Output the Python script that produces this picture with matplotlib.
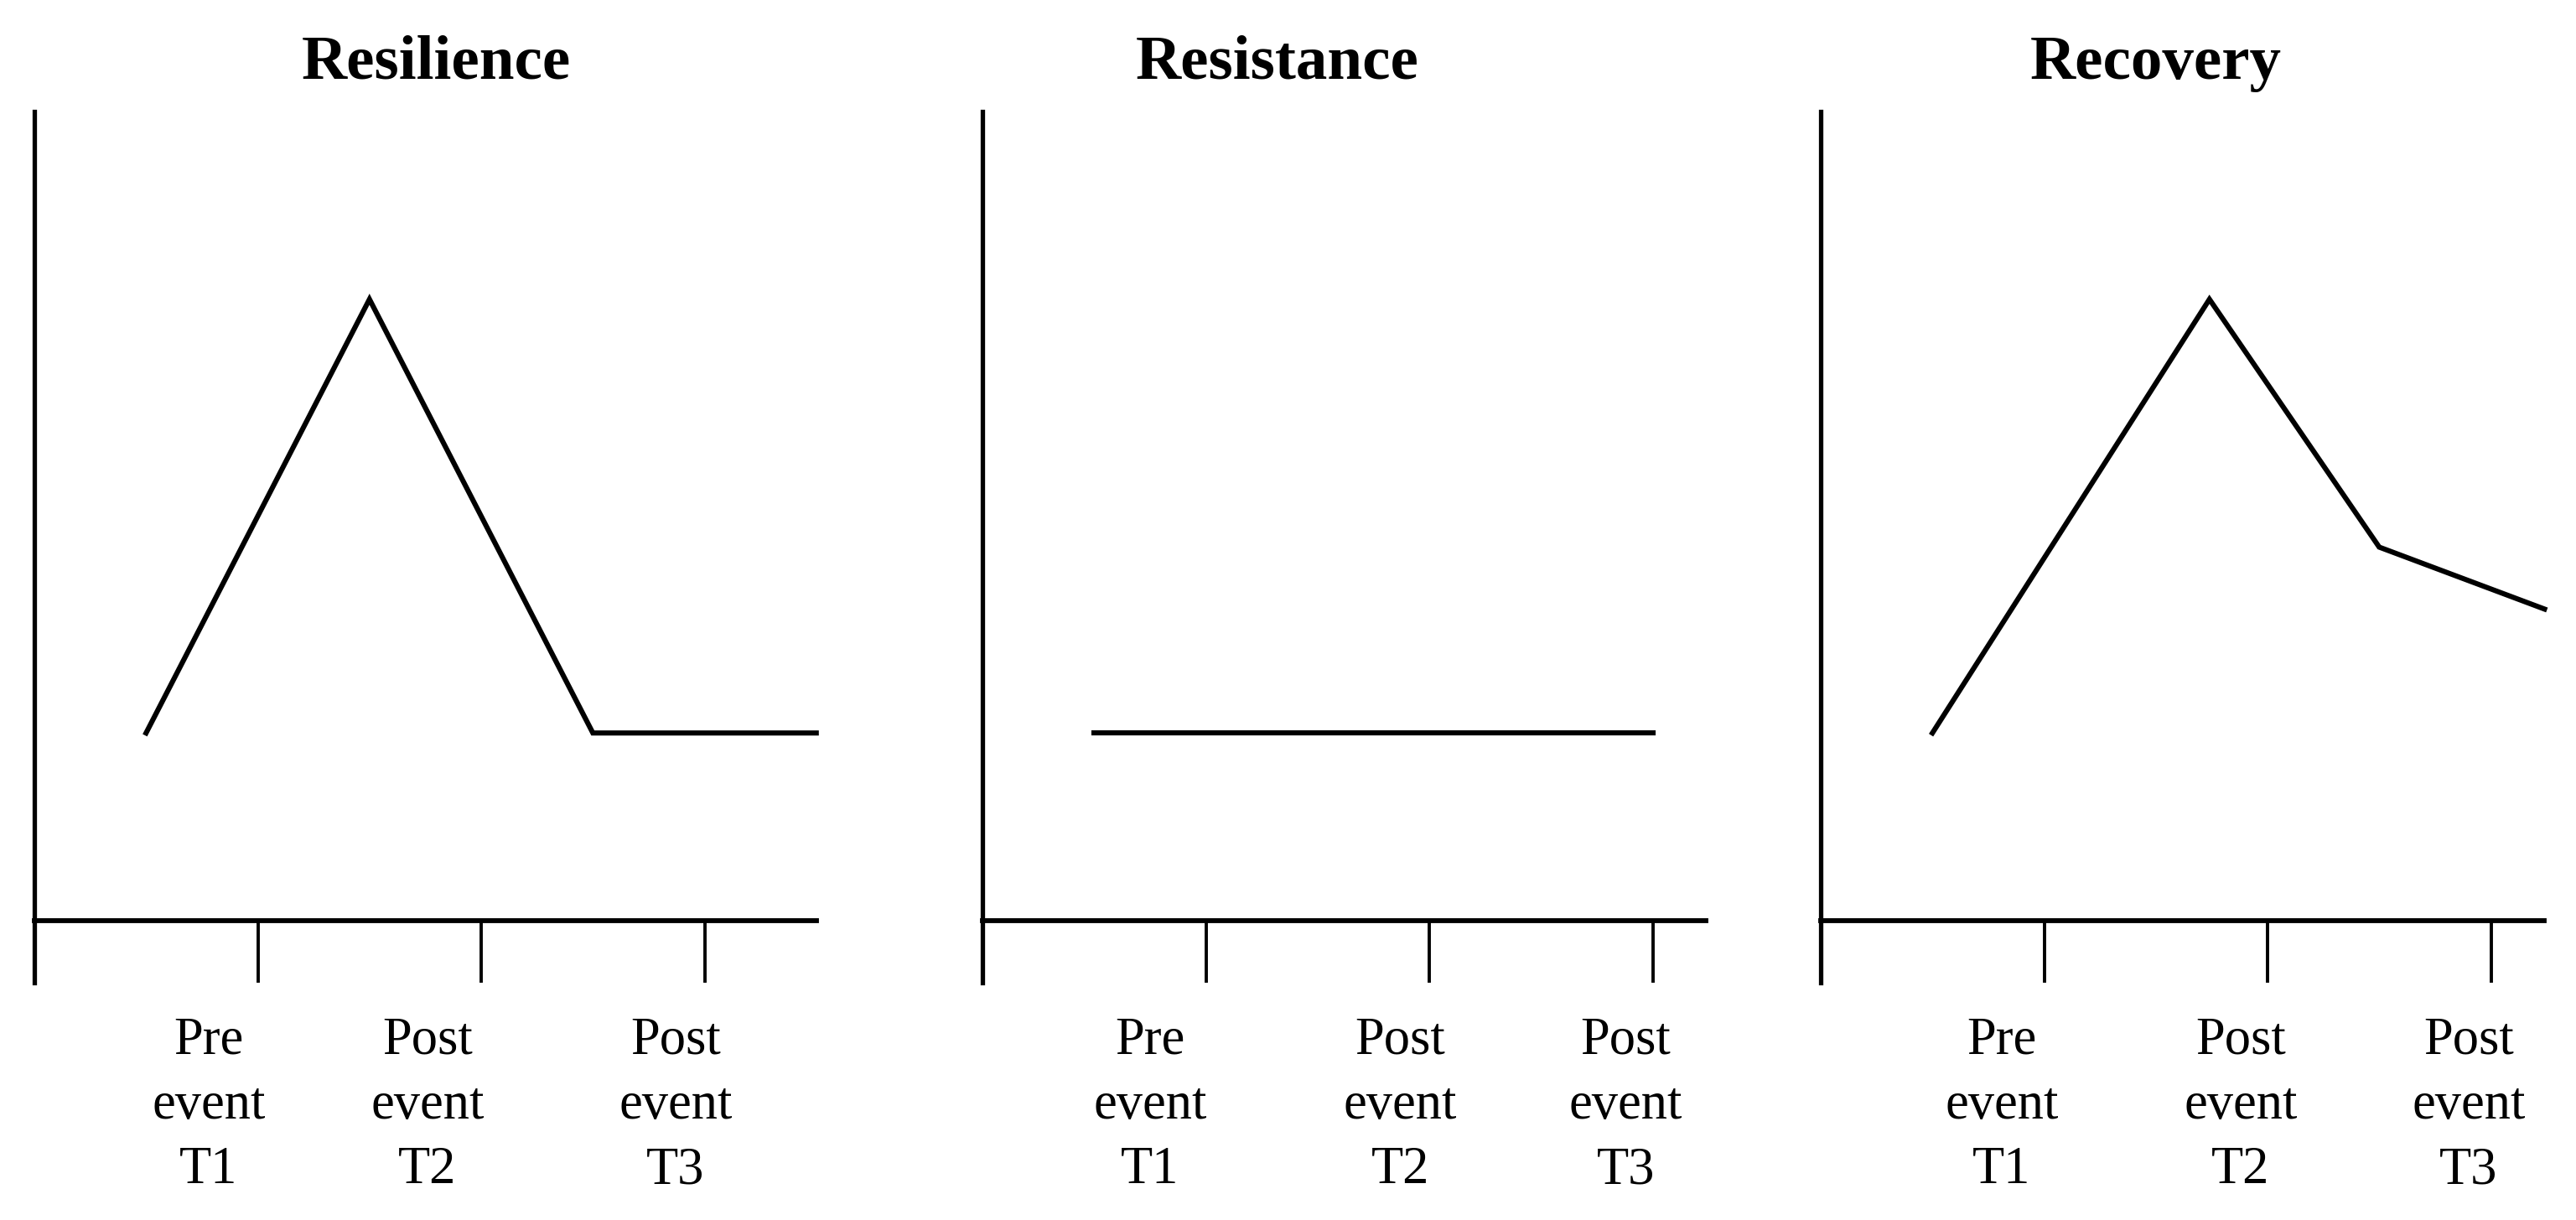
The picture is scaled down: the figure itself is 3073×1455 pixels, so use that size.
import matplotlib
matplotlib.use('Agg')
import matplotlib.pyplot as plt

plt.rcParams['font.family'] = ['Liberation Serif', 'DejaVu Serif']

# data
titles = ['Resilience', 'Resistance', 'Recovery']
tick_labels = ['Pre\nevent\nT1', 'Post\nevent\nT2', 'Post\nevent\nT3']
resilience_x = [0.5, 1.5, 2.5, 3.5]
resilience_y = [1.0, 3.31, 1.0, 1.0]
resistance_x = [0.5, 3.0]
resistance_y = [1.0, 1.0]
recovery_x = [0.5, 1.74, 2.5, 3.24]
recovery_y = [1.0, 3.31, 1.99, 1.66]

series = [(resilience_x, resilience_y), (resistance_x, resistance_y), (recovery_x, recovery_y)]

# layout (pixels of a 3073x1455 canvas)
W, H = 3073, 1455
unit_x = 266.5
lefts = [41, 1172, 2172]
xmaxs = [3.5, 3.24, 3.24]
ylo, yhi = -0.33, 4.31
label_x = [[0.78, 1.76, 2.87], [0.75, 1.87, 2.88], [0.81, 1.88, 2.90]]
title_cx = [520, 1524, 2572]

fig = plt.figure(figsize=(W / 100, H / 100), dpi=100)

for i in range(3):
    w = xmaxs[i] * unit_x
    ax = fig.add_axes([lefts[i] / W, (H - 1172) / H, w / W, 1039 / H])
    x, y = series[i]
    ax.plot(x, y, color='black', lw=4.4, clip_on=False, solid_joinstyle='miter')
    ax.set_xlim(0, xmaxs[i])
    ax.set_ylim(ylo, yhi)
    ax.spines['top'].set_visible(False)
    ax.spines['right'].set_visible(False)
    ax.spines['bottom'].set_position(('data', 0))
    ax.spines['bottom'].set_linewidth(4.2)
    ax.spines['left'].set_linewidth(3.8)
    ax.set_yticks([])
    ax.set_xticks([1, 2, 3])
    ax.set_xticklabels([])
    ax.tick_params(axis='x', direction='out', length=53, width=2.8, color='black')
    for j in range(3):
        ax.text(label_x[i][j], -0.51, tick_labels[j], ha='center', va='top',
                fontsize=45, linespacing=1.44, clip_on=False)
    fig.text(title_cx[i] / W, (H - 94) / H, titles[i], ha='center', va='baseline',
             fontsize=54, fontweight='bold')

fig.savefig('out.png', dpi=100)
